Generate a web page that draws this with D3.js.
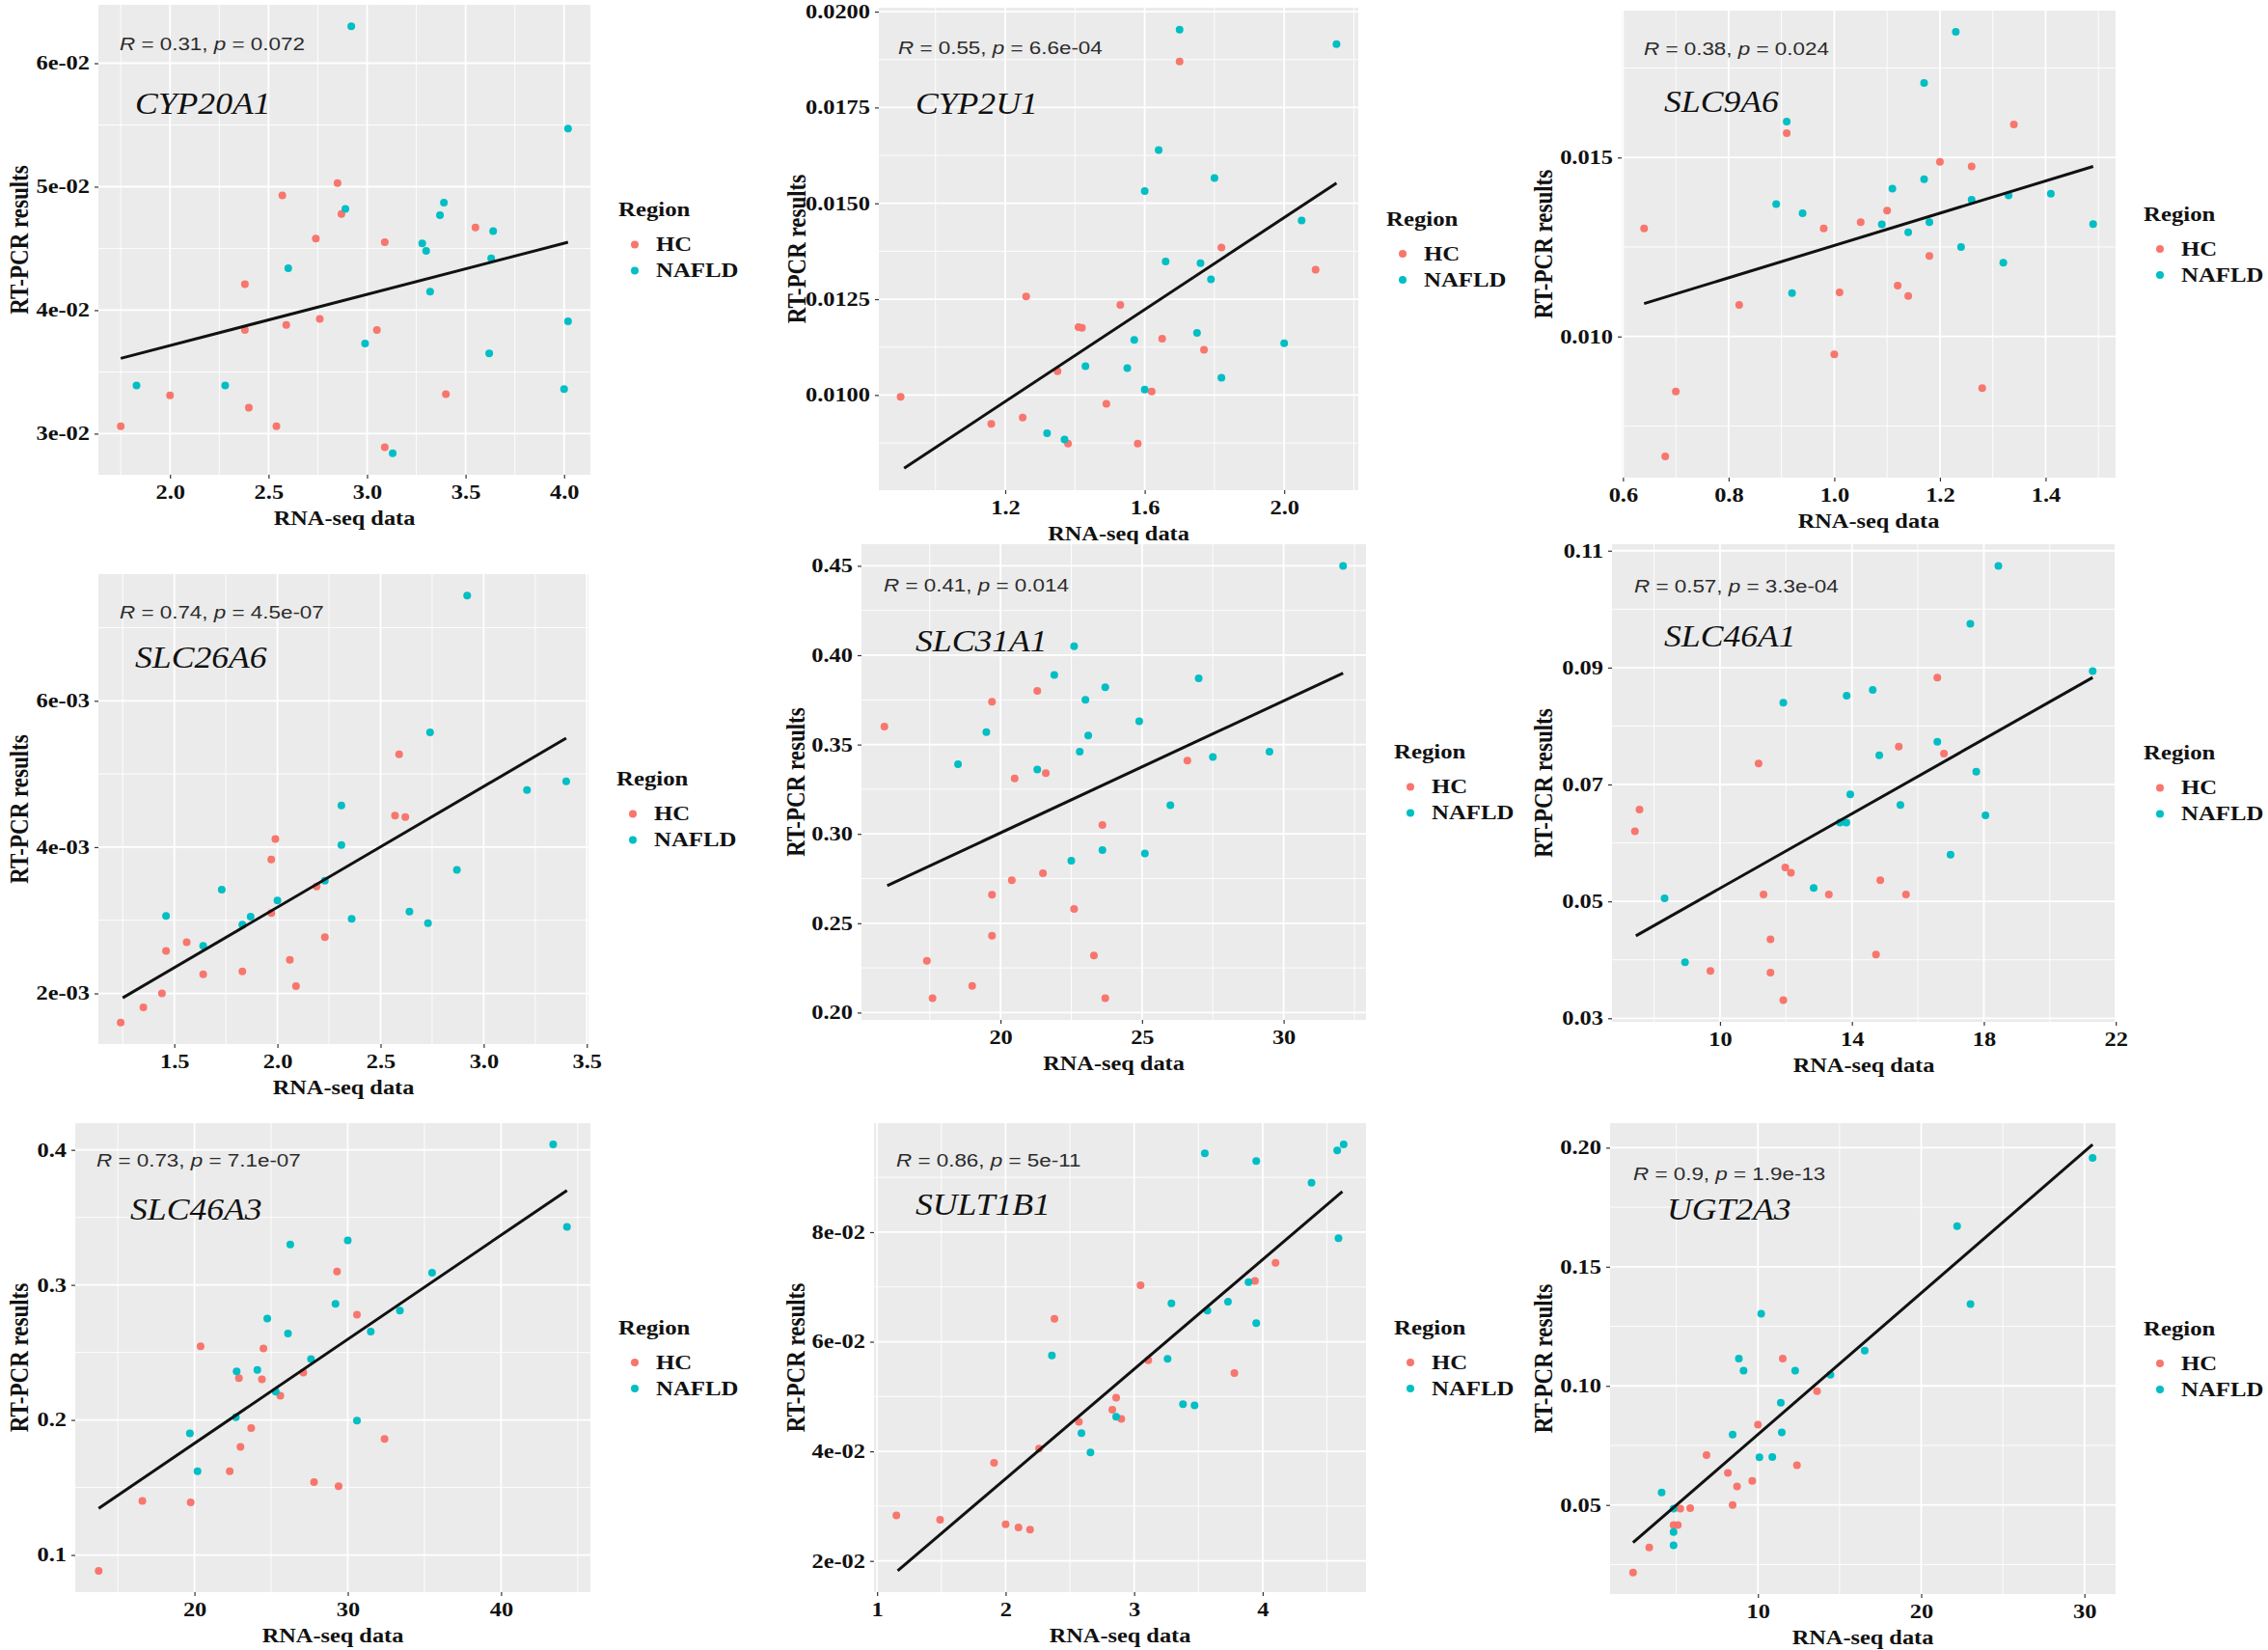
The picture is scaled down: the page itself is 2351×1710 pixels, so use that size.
<!DOCTYPE html>
<html>
<head>
<meta charset="utf-8">
<script src="https://cdn.jsdelivr.net/npm/d3@7"></script>
<style>
  body { margin: 0; background: #fff; }
</style>
</head>
<body>
<svg id="fig"></svg>
<script>
// ---- data: [RNA-seq, RT-PCR] pairs per group ----
const cyp20a1HC = [[1.75,0.0306],[2.00,0.0331],[2.38,0.0384],[2.38,0.0421],[2.40,0.0321],[2.54,0.0306],[2.57,0.0493],[2.59,0.0388],[2.74,0.0458],[2.76,0.0393],[2.85,0.0503],[2.87,0.0478],[3.05,0.0384],[3.09,0.0455],[3.09,0.0289],[3.40,0.0332],[3.55,0.0467]];
const cyp20a1NAFLD = [[1.83,0.0339],[2.28,0.0339],[2.60,0.0434],[2.89,0.0482],[2.92,0.0630],[2.99,0.0373],[3.13,0.0284],[3.28,0.0454],[3.30,0.0448],[3.32,0.0415],[3.37,0.0477],[3.39,0.0487],[3.62,0.0365],[3.63,0.0442],[3.64,0.0464],[4.00,0.0336],[4.02,0.0391],[4.02,0.0547]];
const cyp20a1Fit = [[1.75,0.0361],[4.02,0.0455]];

const cyp2u1HC = [[0.90,0.00995],[1.16,0.00925],[1.25,0.00941],[1.26,0.01257],[1.35,0.01062],[1.38,0.00873],[1.41,0.01177],[1.42,0.01175],[1.49,0.00977],[1.53,0.01235],[1.58,0.00873],[1.62,0.01009],[1.65,0.01147],[1.70,0.01870],[1.77,0.01118],[1.82,0.01385],[2.09,0.01327]];
const cyp2u1NAFLD = [[1.32,0.00900],[1.37,0.00884],[1.43,0.01075],[1.55,0.01070],[1.57,0.01144],[1.60,0.01532],[1.60,0.01014],[1.64,0.01639],[1.66,0.01348],[1.70,0.01953],[1.75,0.01162],[1.76,0.01344],[1.79,0.01302],[1.80,0.01566],[1.82,0.01045],[2.00,0.01135],[2.05,0.01455],[2.15,0.01915]];
const cyp2u1Fit = [[0.91,0.00809],[2.15,0.01553]];

const slc9a6HC = [[0.64,0.01302],[0.68,0.00665],[0.70,0.00846],[0.82,0.01088],[0.91,0.01568],[0.98,0.01302],[1.00,0.00950],[1.01,0.01123],[1.05,0.01319],[1.10,0.01352],[1.12,0.01142],[1.14,0.01113],[1.18,0.01225],[1.20,0.01488],[1.26,0.01475],[1.28,0.00856],[1.34,0.01592]];
const slc9a6NAFLD = [[0.89,0.01370],[0.91,0.01600],[0.92,0.01121],[0.94,0.01344],[1.09,0.01313],[1.11,0.01413],[1.14,0.01291],[1.17,0.01708],[1.17,0.01439],[1.18,0.01319],[1.23,0.01851],[1.24,0.01250],[1.26,0.01382],[1.32,0.01206],[1.33,0.01394],[1.41,0.01399],[1.49,0.01314]];
const slc9a6Fit = [[0.64,0.01092],[1.49,0.01475]];

const slc26a6HC = [[1.24,0.00160],[1.35,0.00181],[1.44,0.00200],[1.46,0.00258],[1.56,0.00270],[1.64,0.00226],[1.83,0.00230],[1.97,0.00310],[1.97,0.00383],[1.99,0.00411],[2.06,0.00246],[2.09,0.00210],[2.19,0.00346],[2.23,0.00277],[2.57,0.00443],[2.62,0.00441],[2.59,0.00527]];
const slc26a6NAFLD = [[1.46,0.00306],[1.64,0.00265],[1.73,0.00342],[1.83,0.00294],[1.87,0.00305],[2.00,0.00327],[2.23,0.00354],[2.31,0.00457],[2.31,0.00403],[2.36,0.00302],[2.64,0.00312],[2.73,0.00296],[2.74,0.00557],[2.87,0.00369],[2.92,0.00744],[3.21,0.00478],[3.40,0.00490]];
const slc26a6Fit = [[1.25,0.00194],[3.40,0.00549]];

const slc31a1HC = [[15.9,0.360],[17.4,0.229],[17.6,0.208],[19.0,0.215],[19.7,0.374],[19.7,0.243],[19.7,0.266],[20.4,0.274],[20.5,0.331],[21.3,0.380],[21.5,0.278],[21.6,0.334],[22.6,0.258],[23.3,0.232],[23.6,0.305],[23.7,0.208],[26.6,0.341]];
const slc31a1NAFLD = [[18.5,0.339],[19.5,0.357],[21.3,0.336],[21.9,0.389],[22.5,0.285],[22.6,0.405],[22.8,0.346],[23.0,0.375],[23.1,0.355],[23.6,0.291],[23.7,0.382],[24.9,0.363],[25.1,0.289],[26.0,0.316],[27.0,0.387],[27.5,0.343],[29.5,0.346],[32.1,0.450]];
const slc31a1Fit = [[16.0,0.271],[32.1,0.390]];

const slc46a1HC = [[7.42,0.0620],[7.56,0.0657],[9.71,0.0381],[11.17,0.0736],[11.32,0.0512],[11.53,0.0435],[11.53,0.0378],[11.92,0.0331],[11.98,0.0558],[12.15,0.0549],[13.30,0.0512],[14.73,0.0409],[14.86,0.0536],[15.42,0.0765],[15.64,0.0512],[16.59,0.0883],[16.79,0.0753]];
const slc46a1NAFLD = [[8.32,0.0505],[8.94,0.0396],[11.92,0.0840],[12.84,0.0523],[13.64,0.0635],[13.83,0.0635],[13.84,0.0852],[13.95,0.0683],[14.63,0.0862],[14.83,0.0750],[15.47,0.0665],[16.59,0.0773],[16.99,0.0580],[17.59,0.0975],[17.77,0.0722],[18.05,0.0647],[18.44,0.1074],[21.3,0.0894]];
const slc46a1Fit = [[7.45,0.0441],[21.3,0.0883]];

const slc46a3HC = [[13.75,0.0883],[16.6,0.140],[19.75,0.139],[20.4,0.2545],[22.3,0.162],[22.9,0.231],[23.0,0.180],[23.7,0.194],[24.4,0.230],[24.5,0.253],[25.6,0.218],[27.1,0.235],[27.8,0.154],[29.3,0.310],[29.4,0.151],[30.6,0.278],[32.4,0.186]];
const slc46a3NAFLD = [[19.7,0.190],[20.2,0.162],[22.7,0.202],[22.75,0.236],[24.1,0.237],[24.75,0.275],[25.3,0.221],[26.1,0.264],[26.25,0.330],[27.6,0.245],[29.2,0.286],[30.0,0.333],[30.6,0.1995],[31.5,0.2655],[33.4,0.281],[35.5,0.309],[43.4,0.404],[44.3,0.343]];
const slc46a3Fit = [[13.75,0.1345],[44.3,0.370]];

const sult1b1HC = [[1.15,0.0283],[1.49,0.0275],[1.91,0.0379],[2.00,0.0267],[2.10,0.0261],[2.19,0.0257],[2.26,0.0405],[2.38,0.0642],[2.57,0.0454],[2.83,0.0476],[2.86,0.0498],[2.90,0.0459],[3.05,0.0703],[3.11,0.0566],[3.78,0.0543],[3.94,0.0711],[4.10,0.0744]];
const sult1b1NAFLD = [[2.36,0.0575],[2.59,0.0433],[2.66,0.0398],[2.86,0.0463],[3.26,0.0569],[3.29,0.0670],[3.38,0.0486],[3.47,0.0484],[3.55,0.0944],[3.57,0.0657],[3.73,0.0673],[3.89,0.0709],[3.95,0.0634],[3.95,0.0930],[4.38,0.0890],[4.58,0.0949],[4.59,0.0789],[4.63,0.0960]];
const sult1b1Fit = [[1.16,0.0182],[4.62,0.0874]];

const ugt2a3HC = [[2.35,0.0216],[3.34,0.0322],[4.83,0.0416],[5.09,0.0416],[5.24,0.0485],[5.85,0.0487],[6.85,0.0709],[8.16,0.0635],[8.45,0.0500],[8.72,0.0578],[9.65,0.0601],[10.0,0.0837],[11.52,0.1115],[12.39,0.0667],[13.62,0.0978]];
const ugt2a3NAFLD = [[4.10,0.0552],[4.83,0.0485],[4.83,0.0386],[4.83,0.0331],[8.45,0.0796],[8.83,0.1115],[9.12,0.1064],[10.09,0.0700],[10.20,0.1303],[10.88,0.0701],[11.40,0.0929],[11.46,0.0805],[12.28,0.1064],[14.44,0.1047],[16.54,0.1148],[22.20,0.1670],[23.02,0.1343],[30.50,0.1957]];
const ugt2a3Fit = [[2.35,0.0342],[30.5,0.2013]];

const genes = ["CYP20A1","CYP2U1","SLC9A6","SLC26A6","SLC31A1","SLC46A1","SLC46A3","SULT1B1","UGT2A3"];
const rValues = ["0.31","0.55","0.38","0.74","0.41","0.57","0.73","0.86","0.9"];
const pValues = ["0.072","6.6e-04","0.024","4.5e-07","0.014","3.3e-04","7.1e-07","5e-11","1.9e-13"];

const xTicks = [[2.0,2.5,3.0,3.5,4.0],[1.2,1.6,2.0],[0.6,0.8,1.0,1.2,1.4],[1.5,2.0,2.5,3.0,3.5],[20,25,30],[10,14,18,22],[20,30,40],[1,2,3,4],[10,20,30]];
const xTickLabels = [["2.0","2.5","3.0","3.5","4.0"],["1.2","1.6","2.0"],["0.6","0.8","1.0","1.2","1.4"],["1.5","2.0","2.5","3.0","3.5"],["20","25","30"],["10","14","18","22"],["20","30","40"],["1","2","3","4"],["10","20","30"]];
const yTicks = [[0.03,0.04,0.05,0.06],[0.0075,0.01,0.0125,0.015,0.0175,0.02],[0.010,0.015],[0.002,0.004,0.006],[0.20,0.25,0.30,0.35,0.40,0.45],[0.03,0.05,0.07,0.09,0.11],[0.1,0.2,0.3,0.4],[0.02,0.04,0.06,0.08],[0.05,0.10,0.15,0.20]];
const yTickLabels = [["3e-02","4e-02","5e-02","6e-02"],["0.0075","0.0100","0.0125","0.0150","0.0175","0.0200"],["0.010","0.015"],["2e-03","4e-03","6e-03"],["0.20","0.25","0.30","0.35","0.40","0.45"],["0.03","0.05","0.07","0.09","0.11"],["0.1","0.2","0.3","0.4"],["2e-02","4e-02","6e-02","8e-02"],["0.05","0.10","0.15","0.20"]];

const groups = ["HC","NAFLD"];
const groupColors = ["#F8766D","#00BFC4"];

const hcSets = [cyp20a1HC, cyp2u1HC, slc9a6HC, slc26a6HC, slc31a1HC, slc46a1HC, slc46a3HC, sult1b1HC, ugt2a3HC];
const nafldSets = [cyp20a1NAFLD, cyp2u1NAFLD, slc9a6NAFLD, slc26a6NAFLD, slc31a1NAFLD, slc46a1NAFLD, slc46a3NAFLD, sult1b1NAFLD, ugt2a3NAFLD];
const fitSets = [cyp20a1Fit, cyp2u1Fit, slc9a6Fit, slc26a6Fit, slc31a1Fit, slc46a1Fit, slc46a3Fit, sult1b1Fit, ugt2a3Fit];

// ---- layout (pixels): plot box [left, right, top, bottom], y-title x, annotation offsets ----
const layout = [
  {box:[102,612,5,492],    ytx:20,   rOff:[22,47], gOff:[38,113]},
  {box:[911,1408,8,508],   ytx:826,  rOff:[20,48], gOff:[38,110]},
  {box:[1681,2193,11,495], ytx:1600, rOff:[23,46], gOff:[44,105]},
  {box:[102,610,595,1082], ytx:20,   rOff:[22,46], gOff:[38,97]},
  {box:[893,1416,564,1057],ytx:825,  rOff:[23,49], gOff:[56,111]},
  {box:[1671,2193,564,1059],ytx:1600,rOff:[23,50], gOff:[54,106]},
  {box:[78,612,1164,1650], ytx:20,   rOff:[22,45], gOff:[57,100]},
  {box:[906,1416,1164,1650],ytx:825, rOff:[23,45], gOff:[43,95]},
  {box:[1669,2193,1164,1652],ytx:1600,rOff:[24,59], gOff:[59,100]}
];

const width = 2351, height = 1710;
const serif = "'Liberation Serif', 'Times New Roman', serif";
const sans = "'Liberation Sans', Arial, sans-serif";
const stretch = 1.22; // the source figure is a bit wider than tall, text included

const svg = d3.select('#fig')
  .attr('width', width)
  .attr('height', height)
  .attr('viewBox', [0, 0, width, height]);

svg.append('rect').attr('width', width).attr('height', height).attr('fill', '#fff');

// ggplot style limits: data range expanded by 5% on each side
function padded(vals) {
  const [lo, hi] = d3.extent(vals);
  const pad = (hi - lo) * 0.05;
  return [lo - pad, hi + pad];
}

// midpoints between majors, plus one step past each end
function minorBreaks(ticks, domain) {
  const step = ticks[1] - ticks[0];
  const out = [ticks[0] - step / 2];
  for (let i = 0; i < ticks.length; i++) out.push(ticks[i] + step / 2);
  return out.filter(v => v > domain[0] && v < domain[1]);
}

// text placed at (x,y) and widened a little
function wideText(parent, x, y, sx) {
  return parent.append('g')
    .attr('transform', `translate(${x},${y}) scale(${sx},1)`)
    .append('text');
}

function drawPanel(i) {
  const [L, R, T, B] = layout[i].box;
  const hc = hcSets[i], nafld = nafldSets[i], fit = fitSets[i];
  const all = hc.concat(nafld, fit);

  const xDom = padded(all.map(d => d[0]));
  const yDom = padded(all.map(d => d[1]));
  const x = d3.scaleLinear().domain(xDom).range([L, R]);
  const y = d3.scaleLinear().domain(yDom).range([B, T]);

  const g = svg.append('g').attr('class', 'panel');

  g.append('rect')
    .attr('x', L).attr('y', T)
    .attr('width', R - L).attr('height', B - T)
    .attr('fill', '#EBEBEB');

  // minor grid
  g.selectAll('.xminor').data(minorBreaks(xTicks[i], xDom)).enter().append('line')
    .attr('x1', d => x(d)).attr('x2', d => x(d)).attr('y1', T).attr('y2', B)
    .attr('stroke', '#fff').attr('stroke-width', 0.9);
  g.selectAll('.yminor').data(minorBreaks(yTicks[i], yDom)).enter().append('line')
    .attr('y1', d => y(d)).attr('y2', d => y(d)).attr('x1', L).attr('x2', R)
    .attr('stroke', '#fff').attr('stroke-width', 0.9);

  // major grid
  const xIn = xTicks[i].filter(v => v >= xDom[0] - 0.01 * (xDom[1] - xDom[0]) && v <= xDom[1] + 0.01 * (xDom[1] - xDom[0]));
  const yIn = yTicks[i].filter(v => v >= yDom[0] && v <= yDom[1]);
  g.selectAll('.xmajor').data(xIn).enter().append('line')
    .attr('x1', d => Math.min(x(d), R)).attr('x2', d => Math.min(x(d), R)).attr('y1', T).attr('y2', B)
    .attr('stroke', '#fff').attr('stroke-width', 1.8);
  g.selectAll('.ymajor').data(yIn).enter().append('line')
    .attr('y1', d => y(d)).attr('y2', d => y(d)).attr('x1', L).attr('x2', R)
    .attr('stroke', '#fff').attr('stroke-width', 1.8);

  // axes via d3 axis generators
  const xLab = xTickLabels[i], yLab = yTickLabels[i];
  const xAxis = d3.axisBottom(x).tickValues(xIn).tickSize(4).tickPadding(7)
    .tickFormat(d => xLab[xTicks[i].indexOf(d)]);
  const yAxis = d3.axisLeft(y).tickValues(yIn).tickSize(4).tickPadding(5)
    .tickFormat(d => yLab[yTicks[i].indexOf(d)]);

  const gx = g.append('g').attr('transform', `translate(0,${B})`).call(xAxis);
  const gy = g.append('g').attr('transform', `translate(${L},0)`).call(yAxis);
  [gx, gy].forEach(a => {
    a.select('.domain').remove();
    a.selectAll('.tick line').attr('stroke', '#333').attr('stroke-width', 1.2);
    a.selectAll('.tick text')
      .attr('fill', '#111')
      .attr('transform', `scale(${stretch},1)`)
      .style('font-family', serif)
      .style('font-weight', 'bold')
      .style('font-size', '20px');
  });
  gy.selectAll('.tick text').attr('x', -9 / stretch);

  // axis titles
  wideText(g, (L + R) / 2, B + 52, stretch * 0.95)
    .text('RNA-seq data')
    .attr('text-anchor', 'middle')
    .style('font-family', serif).style('font-weight', 'bold').style('font-size', '21px')
    .attr('fill', '#111');
  g.append('g')
    .attr('transform', `translate(${layout[i].ytx},${(T + B) / 2}) rotate(-90) scale(1,${stretch})`)
    .append('text')
    .text('RT-PCR results')
    .attr('text-anchor', 'middle')
    .attr('dominant-baseline', 'central')
    .style('font-family', serif).style('font-weight', 'bold').style('font-size', '23px')
    .attr('fill', '#111');

  // points
  const pts = g.append('g');
  [hc, nafld].forEach((set, k) => {
    pts.selectAll('.p' + k).data(set).enter().append('circle')
      .attr('cx', d => x(d[0])).attr('cy', d => y(d[1]))
      .attr('r', 4)
      .attr('fill', groupColors[k]);
  });

  // regression line
  g.append('path')
    .datum(fit)
    .attr('d', d3.line().x(d => x(d[0])).y(d => y(d[1])))
    .attr('stroke', '#111').attr('stroke-width', 3).attr('fill', 'none');

  // R / p annotation
  const stat = wideText(g, L + layout[i].rOff[0], T + layout[i].rOff[1], 1.18)
    .style('font-family', sans).style('font-size', '19px')
    .attr('fill', '#2b2b2b');
  stat.append('tspan').text('R').style('font-style', 'italic');
  stat.append('tspan').text(' = ' + rValues[i] + ', ');
  stat.append('tspan').text('p').style('font-style', 'italic');
  stat.append('tspan').text(' = ' + pValues[i]);

  // gene name
  wideText(g, L + layout[i].gOff[0], T + layout[i].gOff[1], 1.15)
    .text(genes[i])
    .style('font-family', serif).style('font-style', 'italic').style('font-size', '31px')
    .attr('fill', '#111');

  // legend
  const lx = R + 29, mid = (T + B) / 2;
  const leg = g.append('g');
  wideText(leg, lx, mid - 31, 1.18)
    .text('Region')
    .attr('dominant-baseline', 'central')
    .style('font-family', serif).style('font-weight', 'bold').style('font-size', '21px')
    .attr('fill', '#111');
  leg.selectAll('.key').data(groups).enter().append('circle')
    .attr('cx', lx + 17).attr('cy', (d, k) => mid + 5 + k * 27)
    .attr('r', 4)
    .attr('fill', (d, k) => groupColors[k]);
  groups.forEach((name, k) => {
    wideText(leg, lx + 39, mid + 5 + k * 27, 1.18)
      .text(name)
      .attr('dominant-baseline', 'central')
      .style('font-family', serif).style('font-weight', 'bold').style('font-size', '21px')
      .attr('fill', '#111');
  });
}

for (let i = 0; i < genes.length; i++) drawPanel(i);
</script>
</body>
</html>
